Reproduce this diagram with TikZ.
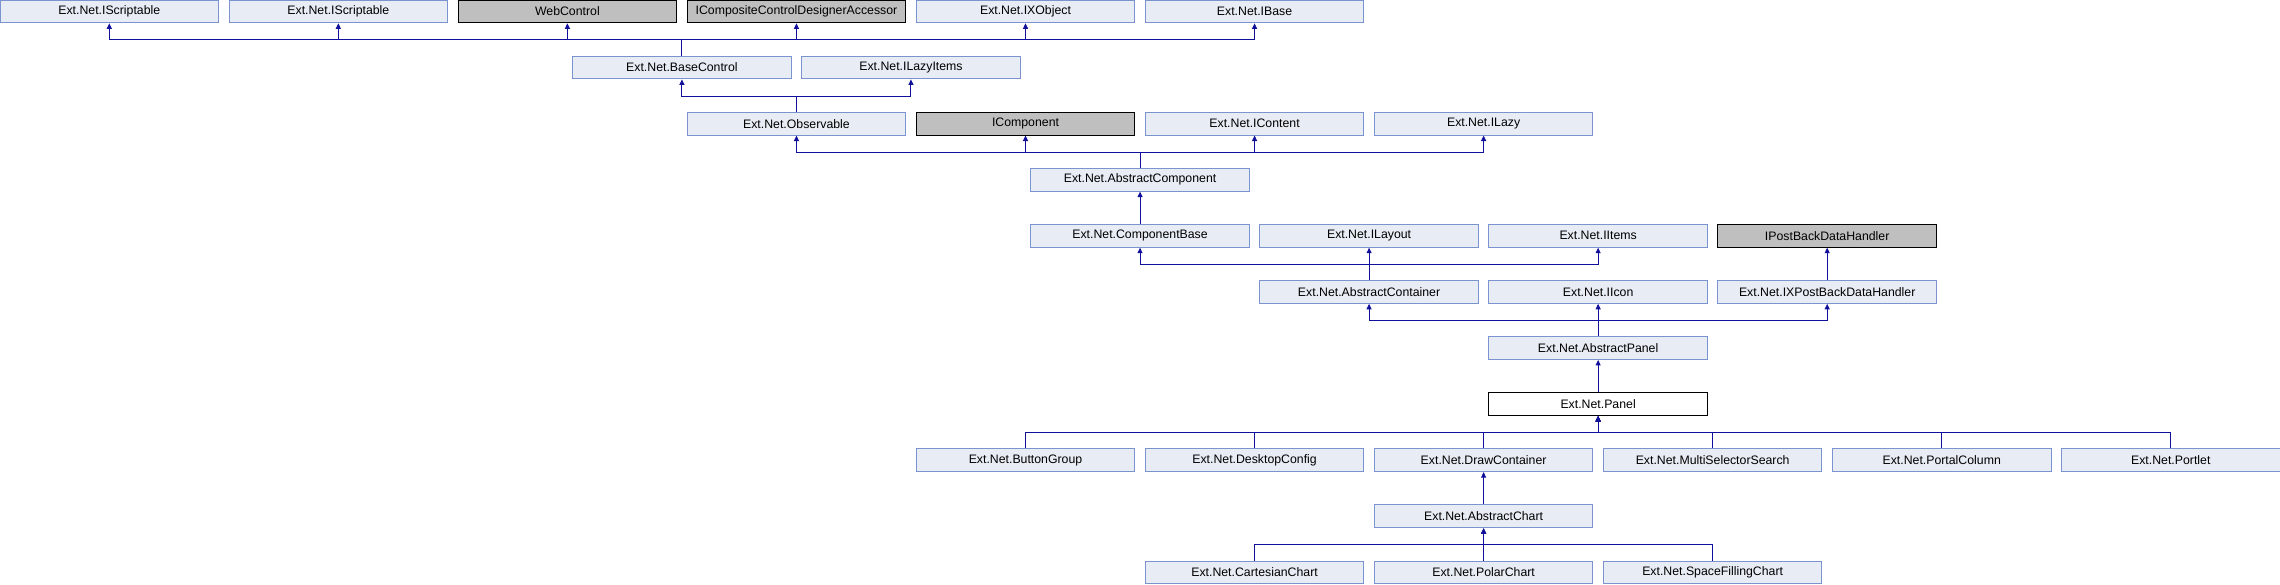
\documentclass[tikz,border=0pt]{standalone}
\usepackage{fontspec}
\setmainfont{Liberation Sans}
\usetikzlibrary{arrows.meta}
\definecolor{nodefill}{HTML}{E8ECF4}
\definecolor{nodeline}{HTML}{7B93CF}
\definecolor{extfill}{HTML}{BFBFBF}
\definecolor{edgecol}{HTML}{10109A}
\newcommand\mynode[5]{\node[#5] (#1) at ({#2*229.05+109.3},{#3*56.1+11.4}) {#4};}
\newcommand\myedge[2]{\draw[inh] (#1.north) |- ([yshift=-16.6pt]#2.south) -- (#2.south);}
\begin{document}
\begin{tikzpicture}[x=1pt,y=-1pt,
 cls/.style={draw=nodeline,fill=nodefill,line width=1pt,minimum width=218.6pt,minimum height=22.8pt,inner sep=0pt,font=\fontsize{12.3}{14}\selectfont},
 ext/.style={cls,draw=black,fill=extfill},
 cur/.style={cls,draw=black,fill=white},
 inh/.style={draw=edgecol,line width=1pt,-{Triangle[length=5.5pt,width=5pt]}},
]
\useasboundingbox (0,0) rectangle (2280,584);
\mynode{s1}{0}{0}{Ext.Net.IScriptable}{cls}
\mynode{s2}{1}{0}{Ext.Net.IScriptable}{cls}
\mynode{web}{2}{0}{WebControl}{ext}
\mynode{icc}{3}{0}{ICompositeControlDesignerAccessor}{ext}
\mynode{ixo}{4}{0}{Ext.Net.IXObject}{cls}
\mynode{ibase}{5}{0}{Ext.Net.IBase}{cls}
\mynode{bc}{2.5}{1}{Ext.Net.BaseControl}{cls}
\mynode{ili}{3.5}{1}{Ext.Net.ILazyItems}{cls}
\mynode{obs}{3}{2}{Ext.Net.Observable}{cls}
\mynode{icomp}{4}{2}{IComponent}{ext}
\mynode{icont}{5}{2}{Ext.Net.IContent}{cls}
\mynode{ilazy}{6}{2}{Ext.Net.ILazy}{cls}
\mynode{ac}{4.5}{3}{Ext.Net.AbstractComponent}{cls}
\mynode{cb}{4.5}{4}{Ext.Net.ComponentBase}{cls}
\mynode{ilay}{5.5}{4}{Ext.Net.ILayout}{cls}
\mynode{iitems}{6.5}{4}{Ext.Net.IItems}{cls}
\mynode{ipb}{7.5}{4}{IPostBackDataHandler}{ext}
\mynode{acont}{5.5}{5}{Ext.Net.AbstractContainer}{cls}
\mynode{iicon}{6.5}{5}{Ext.Net.IIcon}{cls}
\mynode{ixpb}{7.5}{5}{Ext.Net.IXPostBackDataHandler}{cls}
\mynode{ap}{6.5}{6}{Ext.Net.AbstractPanel}{cls}
\mynode{panel}{6.5}{7}{Ext.Net.Panel}{cur}
\mynode{bg}{4}{8}{Ext.Net.ButtonGroup}{cls}
\mynode{dc}{5}{8}{Ext.Net.DesktopConfig}{cls}
\mynode{drawc}{6}{8}{Ext.Net.DrawContainer}{cls}
\mynode{mss}{7}{8}{Ext.Net.MultiSelectorSearch}{cls}
\mynode{pc}{8}{8}{Ext.Net.PortalColumn}{cls}
\mynode{port}{9}{8}{Ext.Net.Portlet}{cls}
\mynode{achart}{6}{9}{Ext.Net.AbstractChart}{cls}
\mynode{cart}{5}{10}{Ext.Net.CartesianChart}{cls}
\mynode{polar}{6}{10}{Ext.Net.PolarChart}{cls}
\mynode{sfc}{7}{10}{Ext.Net.SpaceFillingChart}{cls}
\myedge{bc}{s1}\myedge{bc}{s2}\myedge{bc}{web}\myedge{bc}{icc}\myedge{bc}{ixo}\myedge{bc}{ibase}
\myedge{obs}{bc}\myedge{obs}{ili}
\myedge{ac}{obs}\myedge{ac}{icomp}\myedge{ac}{icont}\myedge{ac}{ilazy}
\myedge{cb}{ac}
\myedge{acont}{cb}\myedge{acont}{ilay}\myedge{acont}{iitems}
\myedge{ixpb}{ipb}
\myedge{ap}{acont}\myedge{ap}{iicon}\myedge{ap}{ixpb}
\myedge{panel}{ap}
\myedge{bg}{panel}\myedge{dc}{panel}\myedge{drawc}{panel}\myedge{mss}{panel}\myedge{pc}{panel}\myedge{port}{panel}
\myedge{achart}{drawc}
\myedge{cart}{achart}\myedge{polar}{achart}\myedge{sfc}{achart}
\end{tikzpicture}
\end{document}
